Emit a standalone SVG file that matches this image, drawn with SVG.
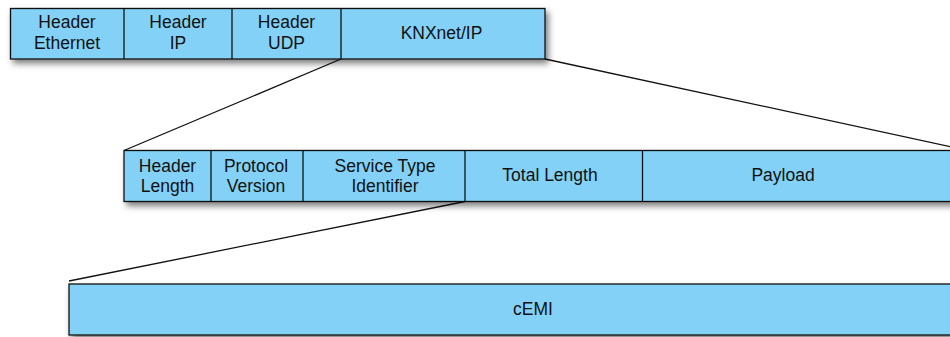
<svg xmlns="http://www.w3.org/2000/svg" width="950" height="337" viewBox="0 0 950 337">
<defs>
<filter id="sh" x="-5%" y="-20%" width="115%" height="160%">
<feDropShadow dx="3" dy="4" stdDeviation="3" flood-color="#000" flood-opacity="0.5"/>
</filter>
<style>
.cell{fill:#83D1F6;stroke:#111;stroke-width:1.3}
.div{stroke:#111;stroke-width:1.3}
text{font-family:"Liberation Sans",Arial,sans-serif;font-size:17.5px;fill:#111;text-anchor:middle}
.conn{stroke:#111;stroke-width:1.3;fill:none}
</style>
</defs>
<rect width="950" height="337" fill="#fff"/>
<g id="connectors">
<line class="conn" x1="341" y1="59" x2="124" y2="150.5"/>
<line class="conn" x1="545" y1="59" x2="952" y2="147"/>
<line class="conn" x1="465" y1="201.5" x2="69" y2="281"/>
</g>
<g id="frame1">
<rect class="cell" x="10.5" y="8.5" width="534.5" height="50.5" filter="url(#sh)"/>
<line class="div" x1="124" y1="8.5" x2="124" y2="59"/>
<line class="div" x1="232" y1="8.5" x2="232" y2="59"/>
<line class="div" x1="341" y1="8.5" x2="341" y2="59"/>
</g>
<g id="header-ethernet"><text x="67" y="27.5">Header</text><text x="67" y="49">Ethernet</text></g>
<g id="header-ip"><text x="178" y="27.5">Header</text><text x="178" y="49">IP</text></g>
<g id="header-udp"><text x="286.5" y="27.5">Header</text><text x="286.5" y="49">UDP</text></g>
<g id="knxnetip"><text x="441.5" y="39">KNXnet/IP</text></g>
<g id="frame2">
<rect class="cell" x="124" y="150.5" width="840" height="51" filter="url(#sh)"/>
<line class="div" x1="211" y1="150.5" x2="211" y2="201.5"/>
<line class="div" x1="303" y1="150.5" x2="303" y2="201.5"/>
<line class="div" x1="465" y1="150.5" x2="465" y2="201.5"/>
<line class="div" x1="642.5" y1="150.5" x2="642.5" y2="201.5"/>
</g>
<g id="header-length"><text x="167.5" y="171.5">Header</text><text x="167.5" y="192">Length</text></g>
<g id="protocol-version"><text x="256" y="171.5">Protocol</text><text x="256" y="192">Version</text></g>
<g id="service-type"><text x="385" y="171.5">Service Type</text><text x="385" y="192">Identifier</text></g>
<g id="total-length"><text x="550" y="181">Total Length</text></g>
<g id="payload"><text x="783" y="181">Payload</text></g>
<g id="cemi">
<rect class="cell" x="69" y="284" width="900" height="51" filter="url(#sh)"/>
<text x="533" y="315">cEMI</text>
</g>
</svg>
